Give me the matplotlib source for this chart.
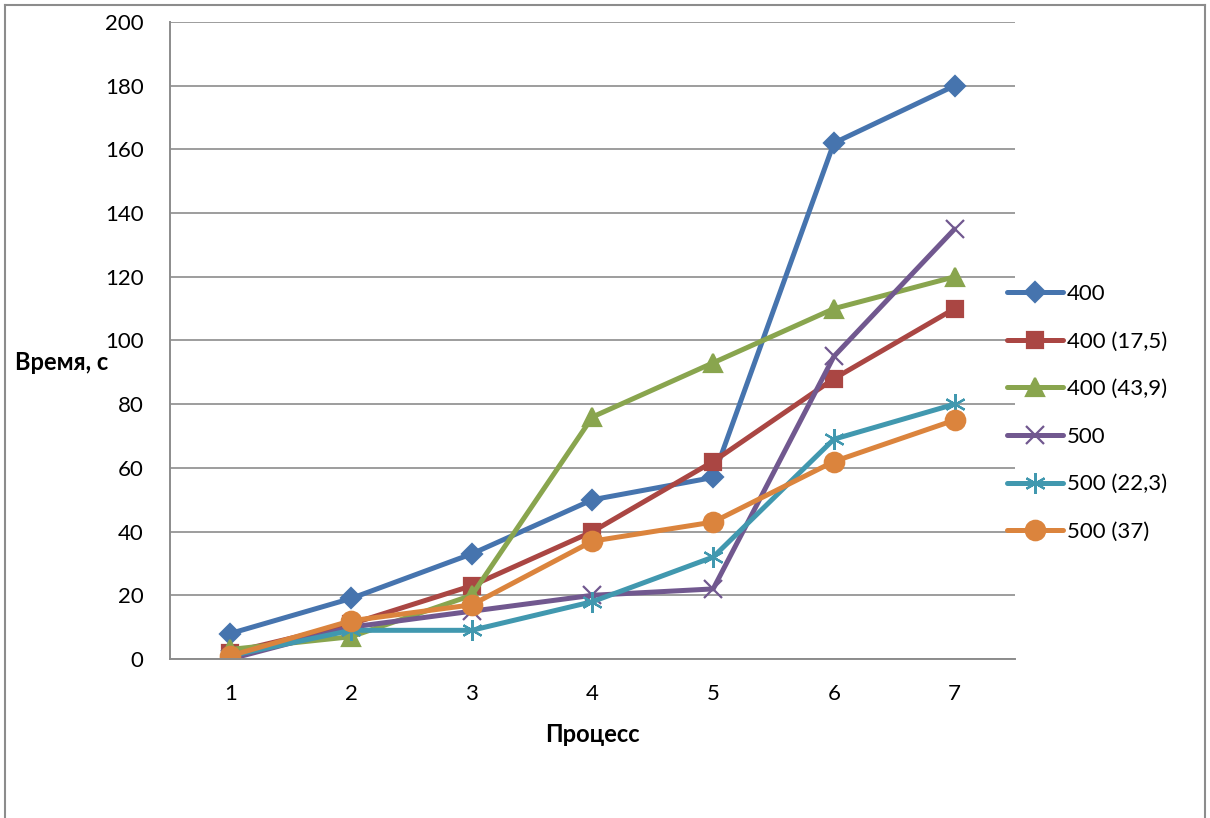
import matplotlib
matplotlib.use("Agg")
import matplotlib.pyplot as plt
from matplotlib.lines import Line2D

plt.rcParams['font.family'] = ['Lato', 'DejaVu Sans']

processes = [1, 2, 3, 4, 5, 6, 7]
s400 = [8, 19, 33, 50, 57, 162, 180]
s400_175 = [2, 11, 23, 40, 62, 88, 110]
s400_439 = [3, 7, 20, 76, 93, 110, 120]
s500 = [0, 10, 15, 20, 22, 95, 135]
s500_223 = [1, 9, 9, 18, 32, 69, 80]
s500_37 = [1, 12, 17, 37, 43, 62, 75]
labels = ["400", "400 (17,5)", "400 (43,9)", "500", "500 (22,3)", "500 (37)"]
yticks = [0, 20, 40, 60, 80, 100, 120, 140, 160, 180, 200]

series = [s400, s400_175, s400_439, s500, s500_223, s500_37]
colors = ["#4674AE", "#AA4643", "#89A54E", "#71588F", "#4198AF", "#DB843D"]
markers = ["D", "s", "^", "x", (6, 2, 0), "o"]
msizes = [10, 12, 13, 13, 15, 14]

fig = plt.figure(figsize=(12.1, 8.18), dpi=100)
ax = fig.add_axes([0.1405, 0.1944, 0.6983, 0.7787])

for ys, c, m, ms, lab in zip(series, colors, markers, msizes, labels):
    ax.plot(processes, ys, color=c, lw=3.6, marker=m, ms=ms,
            mec=c, mfc=c, mew=1.6, label=lab, solid_capstyle='round')

ax.set_xlim(0.5, 7.5)
ax.set_ylim(0, 200)
ax.set_yticks(yticks)
ax.set_xticks(processes)
ax.tick_params(length=0, labelsize=16)
ax.tick_params(axis='y', pad=19)
ax.tick_params(axis='x', pad=18)
ax.grid(axis='y', color='#8c8c8c', lw=1.2)
ax.set_axisbelow(True)
for side in ['top', 'right']:
    ax.spines[side].set_visible(False)
for side in ['left', 'bottom']:
    ax.spines[side].set_color('#8c8c8c')
    ax.spines[side].set_linewidth(1.4)

fig.text(592 / 1210, 1 - 734 / 818, "Процесс", ha='center', va='center',
         fontsize=17, fontweight='bold')
fig.text(15 / 1210, 1 - 362 / 818, "Время, с", ha='left', va='center',
         fontsize=17, fontweight='bold')

ax.legend(loc='center left', bbox_to_anchor=(1007 / 1210, 1 - 413 / 818),
          bbox_transform=fig.transFigure, frameon=False, fontsize=16,
          handlelength=2.5, handletextpad=0.2, labelspacing=1.24,
          borderaxespad=0, borderpad=0)

# outer chart frame
for xs, ys in [([5, 1205], [813, 813]), ([5, 5], [0, 813]), ([1205, 1205], [0, 813])]:
    fig.add_artist(Line2D([x / 1210 for x in xs], [y / 818 for y in ys],
                          color='#8c8c8c', lw=1.5, transform=fig.transFigure))

fig.savefig("out.png", dpi=100)
